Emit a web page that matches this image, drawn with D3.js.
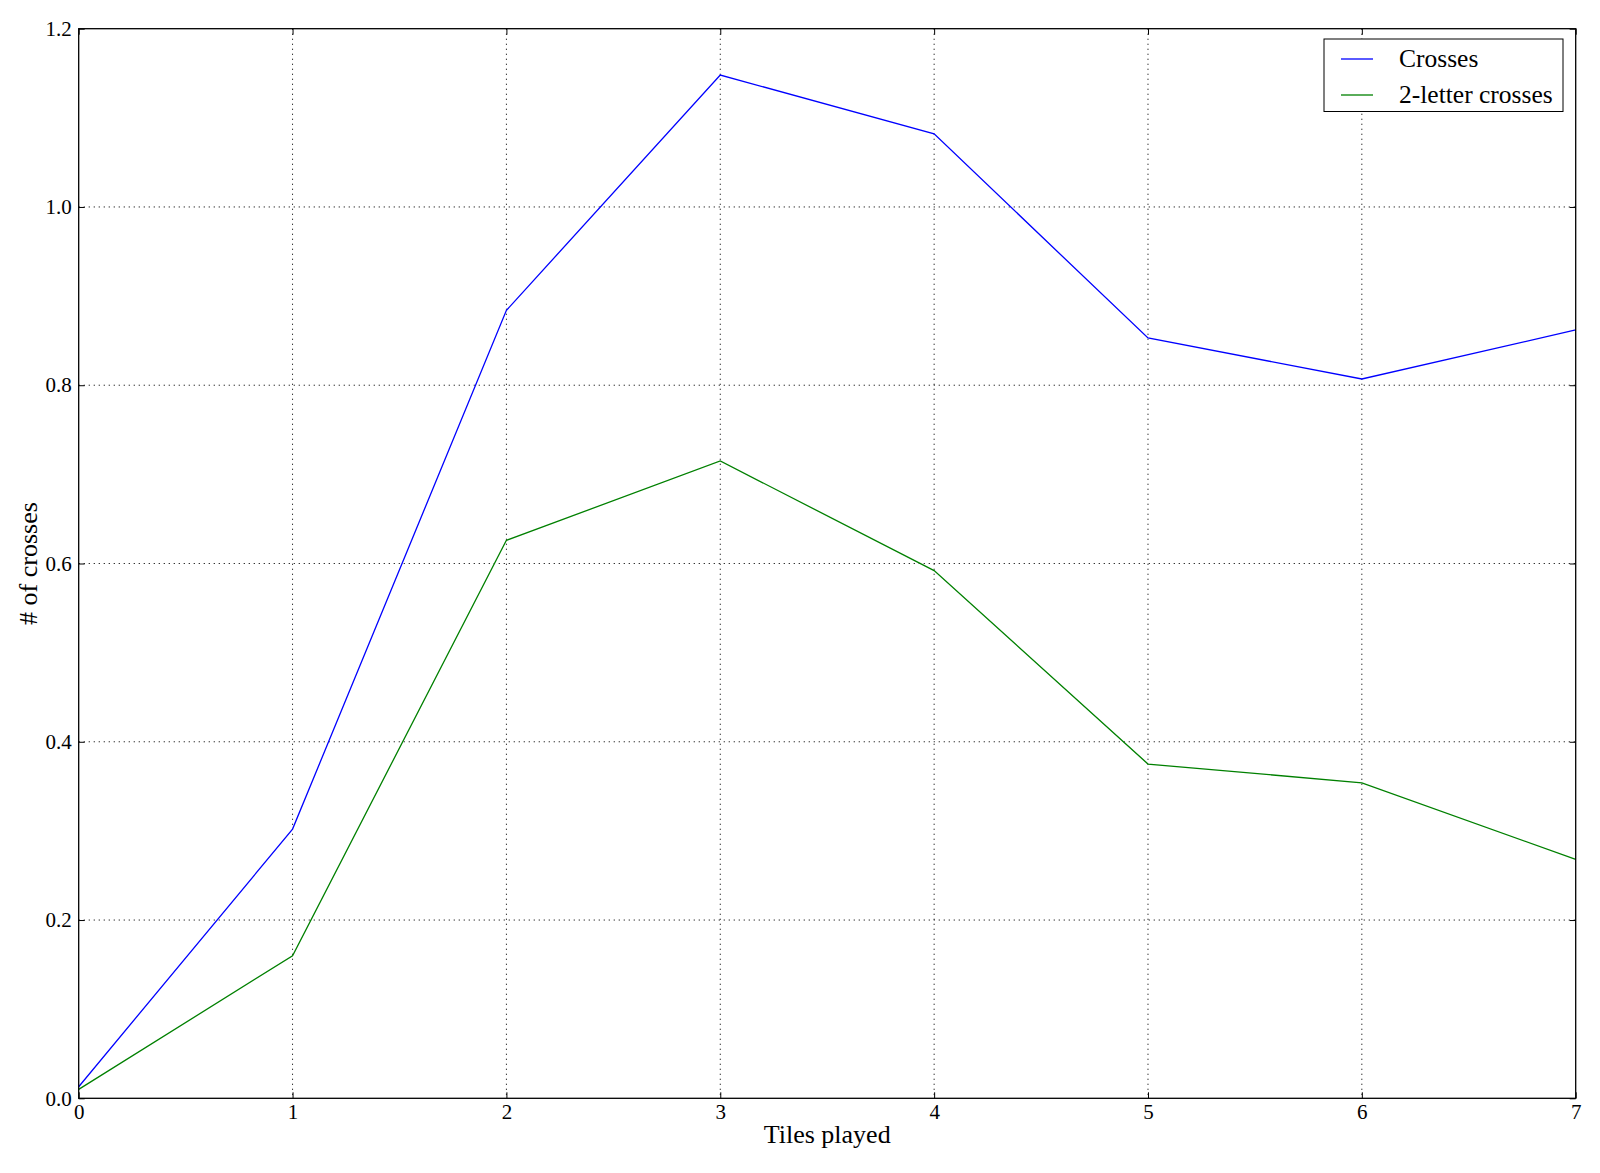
<!DOCTYPE html>
<html>
<head>
<meta charset="utf-8">
<script src="https://cdn.jsdelivr.net/npm/d3@7/dist/d3.min.js"></script>
<style>
  html, body { margin: 0; padding: 0; background: #fff; }
  svg { display: block; }
  text { font-family: "Liberation Serif", "DejaVu Serif", serif; fill: #000; }
</style>
</head>
<body>
<svg id="chart" width="1600" height="1173"></svg>
<script>
const tilesPlayed = [0, 1, 2, 3, 4, 5, 6, 7];
const crosses = [0.013, 0.302, 0.884, 1.148, 1.082, 0.853, 0.807, 0.862];
const twoLetterCrosses = [0.010, 0.160, 0.626, 0.715, 0.592, 0.375, 0.354, 0.268];
const xTicks = [0, 1, 2, 3, 4, 5, 6, 7];
const yTicks = [0.0, 0.2, 0.4, 0.6, 0.8, 1.0, 1.2];
const seriesNames = ["Crosses", "2-letter crosses"];
const seriesColors = ["#0000ff", "#008000"];

const svg = d3.select("#chart");
const pL = 78.7, pR = 1575.7, pT = 28.7, pB = 1098.3;

const x = d3.scaleLinear().domain([0, 7]).range([pL, pR]);
const y = d3.scaleLinear().domain([0, 1.2]).range([pB, pT]);

// grid
const grid = svg.append("g");
grid.selectAll("line.vx").data(xTicks.slice(1, -1)).enter().append("line")
  .attr("x1", d => x(d)).attr("x2", d => x(d)).attr("y1", pT).attr("y2", pB)
  .attr("stroke", "#000").attr("stroke-width", 0.9).attr("stroke-dasharray", "1.2,3.8");
grid.selectAll("line.hy").data(yTicks.slice(1, -1)).enter().append("line")
  .attr("y1", d => y(d)).attr("y2", d => y(d)).attr("x1", pL).attr("x2", pR)
  .attr("stroke", "#000").attr("stroke-width", 0.9).attr("stroke-dasharray", "1.2,3.8");

// lines
const line = d3.line().x((d, i) => x(tilesPlayed[i])).y(d => y(d));
[crosses, twoLetterCrosses].forEach((s, k) => {
  svg.append("path").datum(s).attr("d", line)
    .attr("fill", "none").attr("stroke", seriesColors[k]).attr("stroke-width", 1.3);
});

// axes with inward ticks
const tl = 6;
const xAxisB = d3.axisBottom(x).tickValues(xTicks).tickFormat(d3.format("d")).tickSizeInner(-tl).tickSizeOuter(0).tickPadding(6);
const gx = svg.append("g").attr("transform", `translate(0,${pB})`).call(xAxisB);
gx.select(".domain").remove();
gx.selectAll("text").attr("font-size", 21).attr("font-family", "Liberation Serif");
gx.selectAll("line").attr("stroke", "#000");

const xAxisT = d3.axisTop(x).tickValues(xTicks).tickFormat("").tickSizeInner(-tl).tickSizeOuter(0);
const gxt = svg.append("g").attr("transform", `translate(0,${pT})`).call(xAxisT);
gxt.select(".domain").remove();

const yAxisL = d3.axisLeft(y).tickValues(yTicks).tickFormat(d3.format(".1f")).tickSizeInner(-tl).tickSizeOuter(0).tickPadding(7);
const gy = svg.append("g").attr("transform", `translate(${pL},0)`).call(yAxisL);
gy.select(".domain").remove();
gy.selectAll("text").attr("font-size", 21).attr("font-family", "Liberation Serif");

const yAxisR = d3.axisRight(y).tickValues(yTicks).tickFormat("").tickSizeInner(-tl).tickSizeOuter(0);
const gyr = svg.append("g").attr("transform", `translate(${pR},0)`).call(yAxisR);
gyr.select(".domain").remove();

// frame
svg.append("rect").attr("x", pL).attr("y", pT).attr("width", pR - pL).attr("height", pB - pT)
  .attr("fill", "none").attr("stroke", "#000").attr("stroke-width", 1.3);

// axis labels
svg.append("text").attr("x", (pL + pR) / 2).attr("y", 1143).attr("text-anchor", "middle")
  .attr("font-size", 26).text("Tiles played");
svg.append("text").attr("transform", `translate(37,${(pT + pB) / 2}) rotate(-90)`)
  .attr("text-anchor", "middle").attr("font-size", 26).text("# of crosses");

// legend
const lg = svg.append("g");
lg.append("rect").attr("x", 1324).attr("y", 39).attr("width", 239).attr("height", 72.5)
  .attr("fill", "#fff").attr("stroke", "#000").attr("stroke-width", 1);
seriesNames.forEach((n, k) => {
  const yy = 59 + k * 36;
  lg.append("line").attr("x1", 1341).attr("x2", 1373).attr("y1", yy).attr("y2", yy)
    .attr("stroke", seriesColors[k]).attr("stroke-width", 1.3);
  lg.append("text").attr("x", 1399).attr("y", yy + 8).attr("font-size", 25.5).text(n);
});
</script>
</body>
</html>
